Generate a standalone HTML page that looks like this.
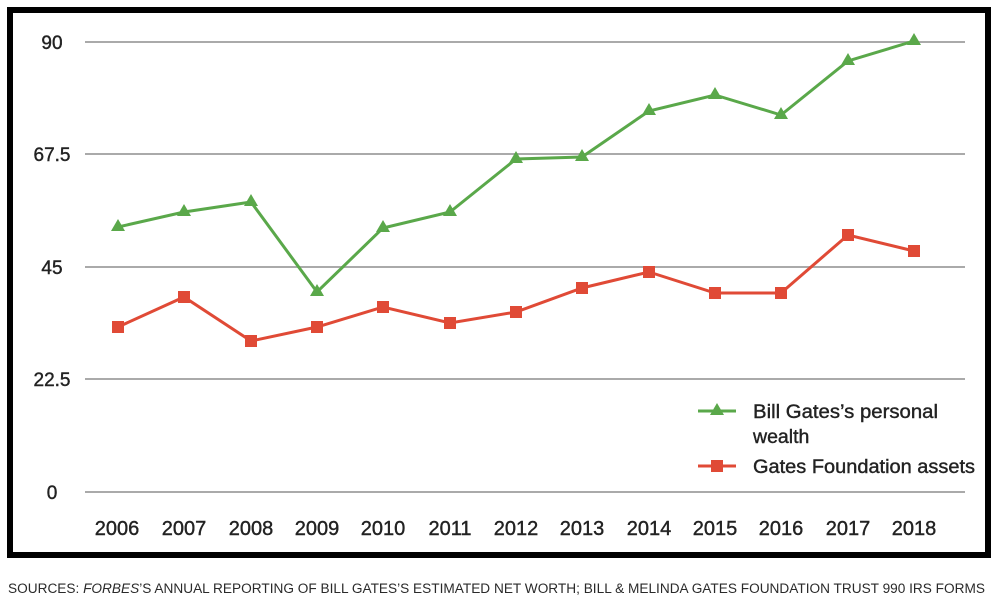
<!DOCTYPE html>
<html><head><meta charset="utf-8"><style>
html,body{margin:0;padding:0;background:#fff;}
svg{display:block;}
text{font-family:"Liberation Sans",sans-serif;}
</style></head><body>
<svg width="993" height="600" viewBox="0 0 993 600" xmlns="http://www.w3.org/2000/svg">
<rect x="0" y="0" width="993" height="600" fill="#fff"/>
<rect x="10" y="10" width="978" height="545" fill="none" stroke="#000" stroke-width="6"/>
<g stroke="#aaa" stroke-width="2">
<line x1="85" y1="42" x2="965" y2="42"/>
<line x1="85" y1="154" x2="965" y2="154"/>
<line x1="85" y1="267" x2="965" y2="267"/>
<line x1="85" y1="379" x2="965" y2="379"/>
<line x1="85" y1="492" x2="965" y2="492"/>
</g>
<g font-size="19" fill="#222" stroke="#222" stroke-width="0.4" text-anchor="middle">
<text x="52" y="49">90</text>
<text x="52" y="161">67.5</text>
<text x="52" y="274">45</text>
<text x="52" y="386">22.5</text>
<text x="52" y="499">0</text>
</g>
<g font-size="20" fill="#222" stroke="#222" stroke-width="0.4" text-anchor="middle">
<text x="117" y="535">2006</text>
<text x="184" y="535">2007</text>
<text x="251" y="535">2008</text>
<text x="317" y="535">2009</text>
<text x="383" y="535">2010</text>
<text x="450" y="535">2011</text>
<text x="516" y="535">2012</text>
<text x="582" y="535">2013</text>
<text x="649" y="535">2014</text>
<text x="715" y="535">2015</text>
<text x="781" y="535">2016</text>
<text x="848" y="535">2017</text>
<text x="914" y="535">2018</text>
</g>
<polyline fill="none" stroke="#5aa84a" stroke-width="3" points="118,227 184,212 251,202 317,292 383,228 450,212 516,159 582,157 649,111 715,95 781,115 848,61 914,41"/>
<polyline fill="none" stroke="#e04a36" stroke-width="3" points="118,327 184,297 251,341 317,327 383,307 450,323 516,312 582,288 649,272 715,293 781,293 848,235 914,251"/>
<g fill="#5aa84a">
<path d="M118,219 l7,12 h-14z"/><path d="M184,204 l7,12 h-14z"/><path d="M251,194 l7,12 h-14z"/><path d="M317,284 l7,12 h-14z"/><path d="M383,220 l7,12 h-14z"/><path d="M450,204 l7,12 h-14z"/><path d="M516,151 l7,12 h-14z"/><path d="M582,149 l7,12 h-14z"/><path d="M649,103 l7,12 h-14z"/><path d="M715,87 l7,12 h-14z"/><path d="M781,107 l7,12 h-14z"/><path d="M848,53 l7,12 h-14z"/><path d="M914,33 l7,12 h-14z"/>
<path d="M717,403 l7,12 h-14z"/>
</g>
<g fill="#e04a36">
<rect x="112" y="321" width="12" height="12"/><rect x="178" y="291" width="12" height="12"/><rect x="245" y="335" width="12" height="12"/><rect x="311" y="321" width="12" height="12"/><rect x="377" y="301" width="12" height="12"/><rect x="444" y="317" width="12" height="12"/><rect x="510" y="306" width="12" height="12"/><rect x="576" y="282" width="12" height="12"/><rect x="643" y="266" width="12" height="12"/><rect x="709" y="287" width="12" height="12"/><rect x="775" y="287" width="12" height="12"/><rect x="842" y="229" width="12" height="12"/><rect x="908" y="245" width="12" height="12"/>
<rect x="711" y="460" width="12" height="12"/>
</g>
<line x1="698" y1="411" x2="736" y2="411" stroke="#5aa84a" stroke-width="3"/>
<line x1="698" y1="466" x2="736" y2="466" stroke="#e04a36" stroke-width="3"/>
<g font-size="19.5" fill="#222" stroke="#222" stroke-width="0.4">
<text x="753" y="418" textLength="185" lengthAdjust="spacingAndGlyphs">Bill Gates’s personal</text>
<text x="753" y="443">wealth</text>
<text x="753" y="473" textLength="222" lengthAdjust="spacingAndGlyphs">Gates Foundation assets</text>
</g>
<text x="8" y="593" font-size="13.5" fill="#2a2a2a" textLength="977" lengthAdjust="spacingAndGlyphs">SOURCES: <tspan font-style="italic">FORBES</tspan>’S ANNUAL REPORTING OF BILL GATES’S ESTIMATED NET WORTH; BILL &amp; MELINDA GATES FOUNDATION TRUST 990 IRS FORMS</text>
</svg>
</body></html>
